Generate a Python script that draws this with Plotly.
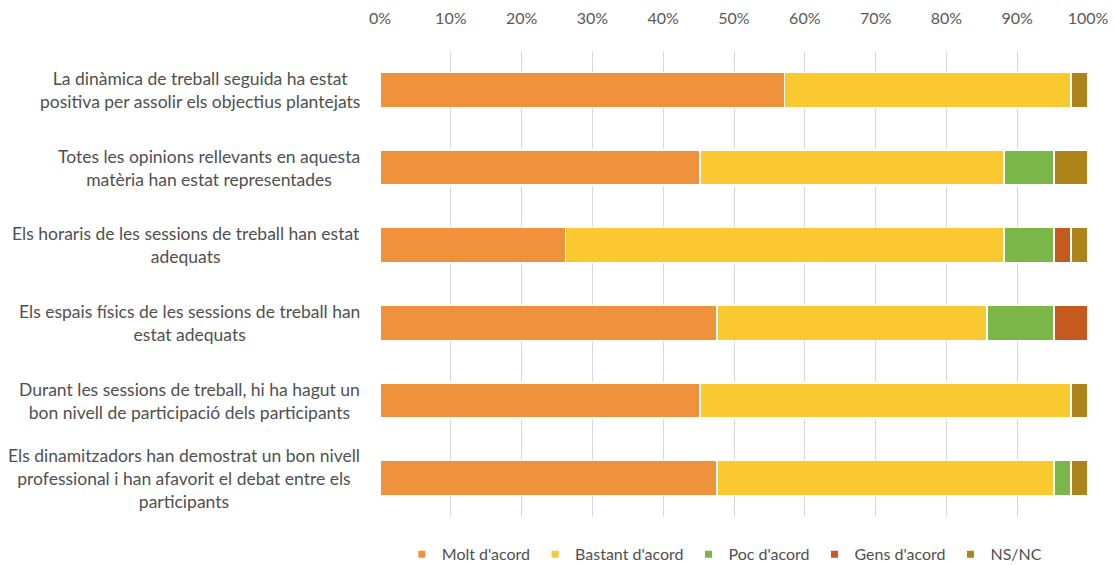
import plotly.graph_objects as go

categories = [
    "La dinàmica de treball seguida ha estat<br>positiva per assolir els objectius plantejats",
    "Totes les opinions rellevants en aquesta<br>matèria han estat representades",
    "Els horaris de les sessions de treball han estat<br>adequats",
    "Els espais físics de les sessions de treball han<br>estat adequats",
    "Durant les sessions de treball, hi ha hagut un<br>bon nivell de participació dels participants",
    "Els dinamitzadors han demostrat un bon nivell<br>professional i han afavorit el debat entre els<br>participants",
]
series_names = ["Molt d'acord", "Bastant d'acord", "Poc d'acord", "Gens d'acord", "NS/NC"]
molt = [57.1, 45.2, 26.2, 47.6, 45.2, 47.6]
bastant = [40.5, 42.9, 61.9, 38.1, 52.4, 47.6]
poc = [0.0, 7.1, 7.1, 9.5, 0.0, 2.4]
gens = [0.0, 0.0, 2.4, 4.8, 0.0, 0.0]
nsnc = [2.4, 4.8, 2.4, 0.0, 2.4, 2.4]
colors = ["#F0913B", "#FAC830", "#7AB648", "#C55A1E", "#AD8419"]
xticks = [0, 10, 20, 30, 40, 50, 60, 70, 80, 90, 100]

ids = [f"c{i}" for i in range(len(categories))]
fig = go.Figure()
for name, vals, col in zip(series_names, [molt, bastant, poc, gens, nsnc], colors):
    fig.add_trace(go.Bar(
        y=ids, x=vals, name=name, orientation="h", showlegend=False,
        legendgroup=name,
        marker=dict(color=col, line=dict(color="white", width=1.5)),
    ))
for name, col in zip(series_names, colors):
    fig.add_trace(go.Scatter(
        x=[None], y=[None], mode="markers", name=name, legendgroup=name,
        marker=dict(symbol="square", size=7, color=col),
    ))

for cid, label in zip(ids, categories):
    fig.add_annotation(
        x=-0.025, xref="paper", y=cid, yref="y", text=label,
        showarrow=False, xanchor="right", yanchor="middle", align="center",
        font=dict(family="Lato", size=17.5, color="#505050"),
    )

fig.update_layout(
    width=1114, height=565,
    barmode="stack", bargap=0.55,
    plot_bgcolor="white", paper_bgcolor="white",
    margin=dict(l=380, r=26, t=51, b=48),
    font=dict(family="Lato", size=16, color="#595959"),
    legend=dict(orientation="h", x=0.487, xanchor="center",
                yref="container", y=0.049, yanchor="top",
                font=dict(size=16, color="#505050"), itemwidth=30,
                traceorder="normal"),
    xaxis=dict(side="top", range=[0, 100], tickvals=xticks,
               ticktext=[f"{v}%" for v in xticks],
               showgrid=True, gridcolor="#D9D9D9", gridwidth=1,
               zeroline=False, showline=False, ticks="",
               ticklabelstandoff=23, automargin=False),
    yaxis=dict(categoryorder="array", categoryarray=ids, autorange="reversed",
               showticklabels=False, showgrid=False, zeroline=False,
               automargin=False),
)
fig.write_html("out.html", config={"displayModeBar": False},
               post_script="document.body.style.margin='0';")
